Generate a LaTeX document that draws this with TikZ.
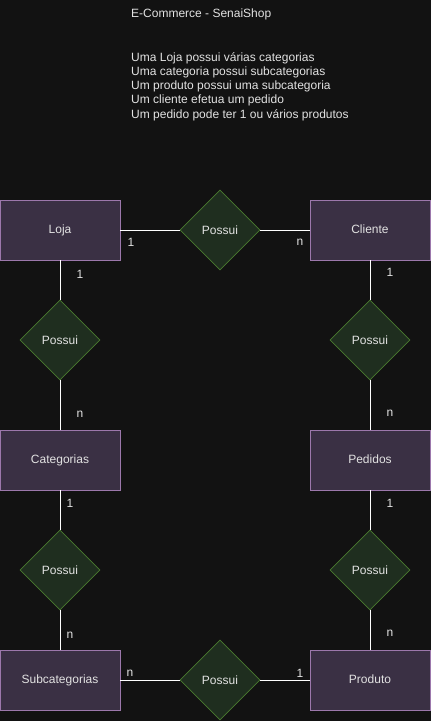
\documentclass[tikz,border=0pt]{standalone}
\usepackage{fontspec}
\setmainfont{Liberation Sans}
\usetikzlibrary{shapes.geometric}
\definecolor{bg}{HTML}{121212}
\definecolor{entfill}{HTML}{3A3044}
\definecolor{entdraw}{HTML}{9C78AC}
\definecolor{relfill}{HTML}{1F2E1F}
\definecolor{reldraw}{HTML}{4A7A30}
\definecolor{txt}{HTML}{E2E2E2}
\tikzset{
  entity/.style={draw=entdraw, fill=entfill, line width=0.8pt, minimum width=120pt, minimum height=60pt, inner sep=0pt, text=txt, text height=9.8pt, text depth=2.6pt, font=\fontsize{12}{14}\selectfont},
  rel/.style={diamond, draw=reldraw, fill=relfill, line width=0.8pt, minimum width=80pt, minimum height=80pt, inner sep=0pt, text=txt, font=\fontsize{12}{14}\selectfont},
  conn/.style={draw=white, line width=0.8pt},
  card/.style={text=txt, font=\fontsize{12}{14}\selectfont, inner sep=0pt},
  note/.style={text=txt, font=\fontsize{12}{14.3}\selectfont, inner sep=0pt, anchor=north west, align=left}
}
\begin{document}
\begin{tikzpicture}[x=1pt,y=-1pt]
\fill[bg] (0,0) rectangle (431,721);
\useasboundingbox (0,0) rectangle (431,721);
\node[note] (title) at (131,9) {E-Commerce - SenaiShop};
\node[note] (desc) at (131,52) {Uma Loja possui várias categorias\\Uma categoria possui subcategorias\\Um produto possui uma subcategoria\\Um cliente efetua um pedido\\Um pedido pode ter 1 ou vários produtos};

\node[entity] (loja) at (60,230) {Loja};
\node[entity] (cliente) at (370,230) {Cliente};
\node[entity] (cat) at (60,460) {Categorias};
\node[entity] (ped) at (370,460) {Pedidos};
\node[entity] (sub) at (60,680) {Subcategorias};
\node[entity] (prod) at (370,680) {Produto};

\node[rel] (r1) at (220,230) {Possui};
\node[rel] (r2) at (60,340) {Possui};
\node[rel] (r3) at (370,340) {Possui};
\node[rel] (r4) at (60,570) {Possui};
\node[rel] (r5) at (370,570) {Possui};
\node[rel] (r6) at (220,680) {Possui};

\draw[conn] (loja) -- (r1);
\draw[conn] (r1) -- (cliente);
\draw[conn] (loja) -- (r2);
\draw[conn] (r2) -- (cat);
\draw[conn] (cat) -- (r4);
\draw[conn] (r4) -- (sub);
\draw[conn] (sub) -- (r6);
\draw[conn] (r6) -- (prod);
\draw[conn] (cliente) -- (r3);
\draw[conn] (r3) -- (ped);
\draw[conn] (ped) -- (r5);
\draw[conn] (r5) -- (prod);

\node[card] (c1) at (131,242) {1};
\node[card] (c2) at (300,242) {n};
\node[card] (c3) at (80,274) {1};
\node[card] (c4) at (80,414) {n};
\node[card] (c5) at (70,503) {1};
\node[card] (c6) at (70,635) {n};
\node[card] (c7) at (130,673) {n};
\node[card] (c8) at (300,673) {1};
\node[card] (c9) at (390,272) {1};
\node[card] (c10) at (390,413) {n};
\node[card] (c11) at (390,503) {1};
\node[card] (c12) at (390,633) {n};
\end{tikzpicture}
\end{document}
